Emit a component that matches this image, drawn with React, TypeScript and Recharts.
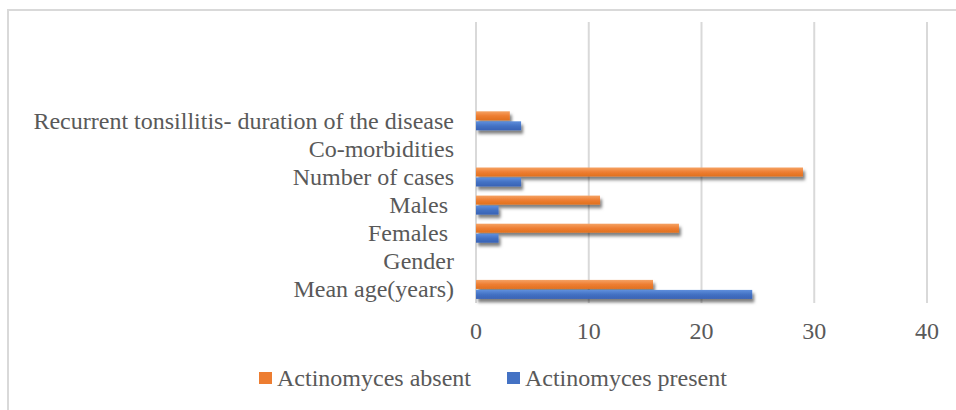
import { Bar, BarChart, CartesianGrid, Legend, XAxis, YAxis } from 'recharts'

// rows are listed top to bottom, as they appear on the chart
const categories = [
  '',
  '',
  '',
  'Recurrent tonsillitis- duration of the disease',
  'Co-morbidities',
  'Number of cases',
  'Males ',
  'Females ',
  'Gender',
  'Mean age(years)',
]
const absent = [null, null, null, 3, null, 29, 11, 18, null, 15.7]
const present = [null, null, null, 4, null, 4, 2, 2, null, 24.5]
const xTicks = [0, 10, 20, 30, 40]

const data = categories.map((name, i) => ({
  name,
  absent: absent[i],
  present: present[i],
}))

const FONT = '"Liberation Serif", "Times New Roman", serif'
const TEXT = '#595959'

const SERIES = [
  { key: 'absent', label: 'Actinomyces absent', color: '#ED7D31', grad: 'gAbsent' },
  { key: 'present', label: 'Actinomyces present', color: '#4472C4', grad: 'gPresent' },
]

function CategoryTick(props: any) {
  const { x, y, payload } = props
  return (
    <text
      x={x}
      y={y}
      dy="0.35em"
      textAnchor="end"
      fill={TEXT}
      fontSize={24}
      fontFamily={FONT}
      style={{ whiteSpace: 'pre' }}
    >
      {payload.value}
    </text>
  )
}

function ShadowBar(props: any) {
  const { x, y, width, height, fill } = props
  if (!width || width <= 0) return <g />
  return (
    <rect x={x} y={y} width={width} height={height} fill={fill} filter="url(#barShadow)" />
  )
}

function LegendBox() {
  return (
    <div
      style={{
        display: 'flex',
        alignItems: 'center',
        marginLeft: 259,
        fontFamily: FONT,
        fontSize: 24,
        color: TEXT,
        lineHeight: '28px',
      }}
    >
      {SERIES.map((s, i) => (
        <div
          key={s.key}
          style={{ display: 'flex', alignItems: 'center', marginRight: i === 0 ? 36 : 0 }}
        >
          <span
            style={{
              display: 'inline-block',
              width: 13,
              height: 12,
              background: s.color,
              marginRight: 5,
            }}
          />
          <span>{s.label}</span>
        </div>
      ))}
    </div>
  )
}

export default function App() {
  return (
    <div
      style={{
        position: 'absolute',
        left: 0,
        top: 0,
        width: 956,
        height: 410,
        background: '#fff',
        fontFamily: FONT,
        overflow: 'hidden',
      }}
    >
      <div
        style={{
          position: 'absolute',
          left: 7,
          top: 9,
          width: 960,
          height: 410,
          borderLeft: '2px solid #d9d9d9',
          borderTop: '2px solid #d9d9d9',
        }}
      />
      <div style={{ position: 'absolute', left: 0, top: 0 }}>
        <BarChart
          width={956}
          height={410}
          data={data}
          layout="vertical"
          margin={{ top: 22, right: 29, bottom: 57, left: 6 }}
          barSize={9}
          barGap={1}
        >
          <defs>
            <linearGradient id="gAbsent" x1="0" y1="0" x2="0" y2="1">
              <stop offset="0%" stopColor="#F5A264" />
              <stop offset="50%" stopColor="#EE7E32" />
              <stop offset="100%" stopColor="#E0701F" />
            </linearGradient>
            <linearGradient id="gPresent" x1="0" y1="0" x2="0" y2="1">
              <stop offset="0%" stopColor="#5F8FDD" />
              <stop offset="50%" stopColor="#4472C4" />
              <stop offset="100%" stopColor="#3862B5" />
            </linearGradient>
            <filter
              id="barShadow"
              filterUnits="userSpaceOnUse"
              x="0"
              y="0"
              width="956"
              height="410"
            >
              <feDropShadow dx="2" dy="3.5" stdDeviation="1.8" floodColor="#000" floodOpacity="0.5" />
            </filter>
          </defs>
          <CartesianGrid horizontal={false} stroke="#d9d9d9" strokeWidth={2} />
          <XAxis
            type="number"
            domain={[0, 40]}
            ticks={xTicks}
            axisLine={false}
            tickLine={false}
            tickMargin={13}
            height={50}
            tick={{ fontSize: 24, fill: TEXT, fontFamily: FONT }}
          />
          <YAxis
            type="category"
            dataKey="name"
            width={470}
            axisLine={false}
            tickLine={false}
            tickMargin={16}
            interval={0}
            tick={<CategoryTick />}
          />
          <Legend
            layout="horizontal"
            verticalAlign="middle"
            align="center"
            wrapperStyle={{ top: 364, left: 0, width: 956 }}
            content={() => <LegendBox />}
          />
          {SERIES.map((s) => (
            <Bar
              key={s.key}
              dataKey={s.key}
              name={s.label}
              fill={`url(#${s.grad})`}
              shape={<ShadowBar />}
              isAnimationActive={false}
            />
          ))}
        </BarChart>
      </div>
    </div>
  )
}
